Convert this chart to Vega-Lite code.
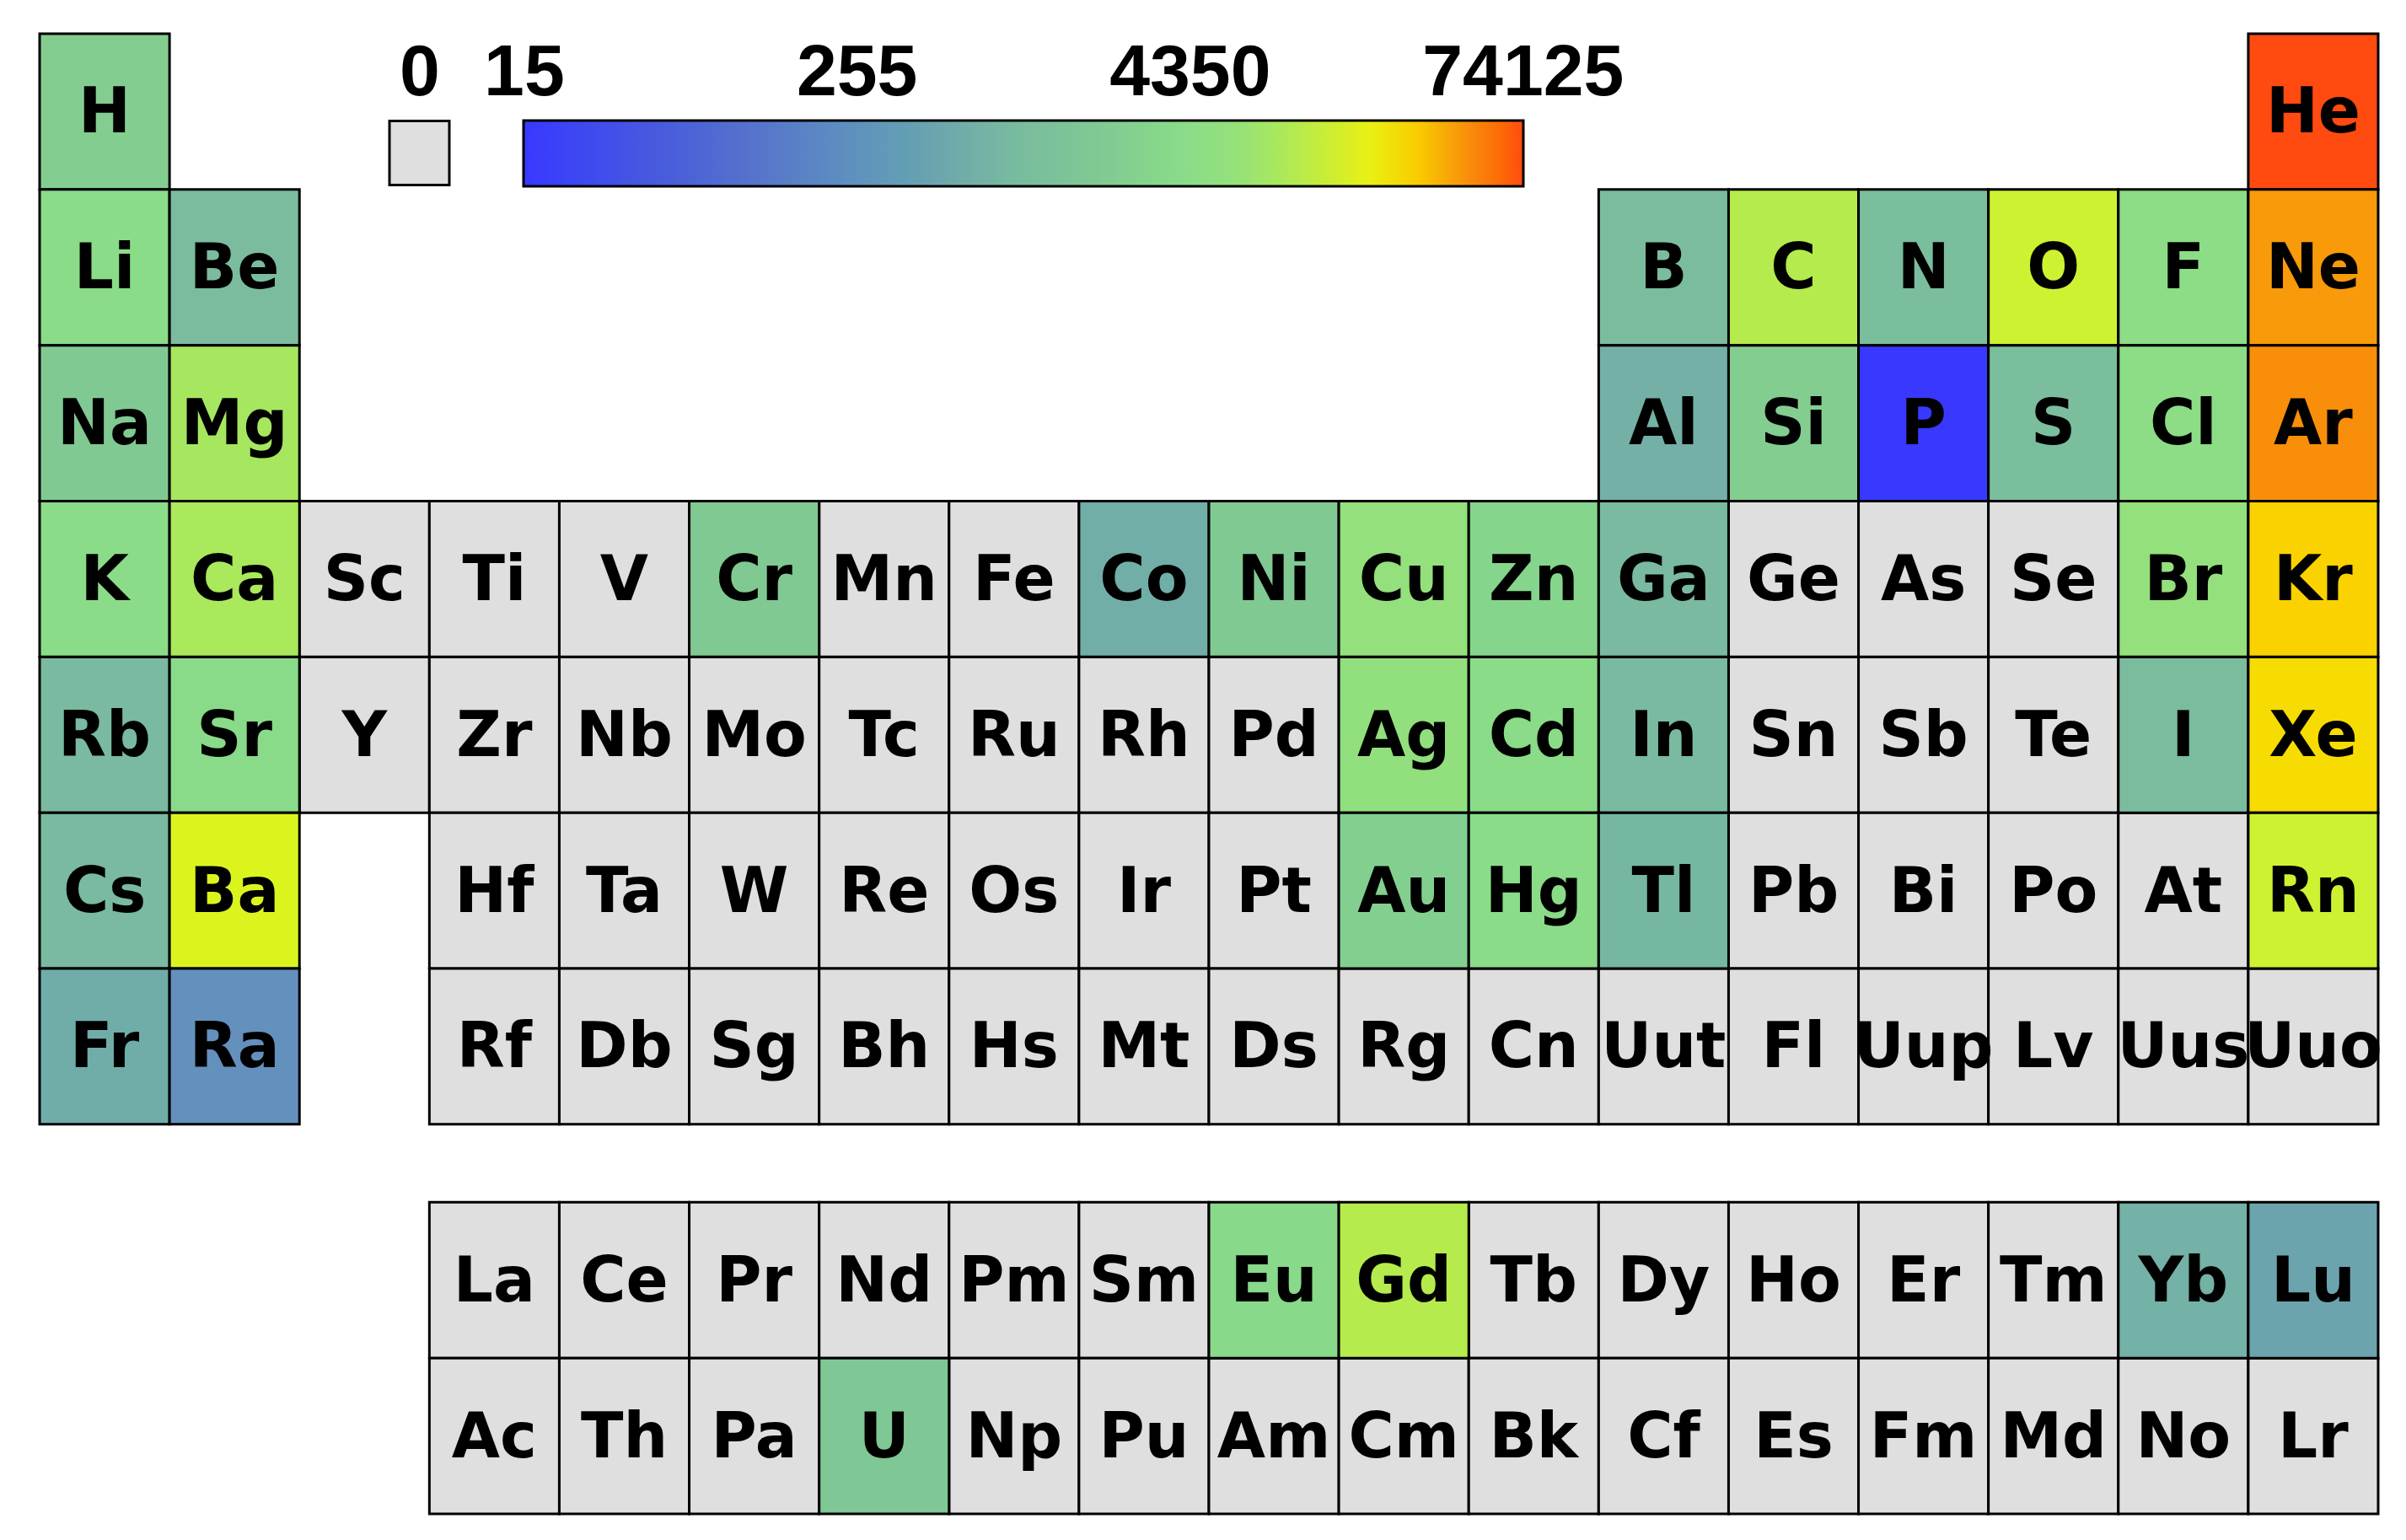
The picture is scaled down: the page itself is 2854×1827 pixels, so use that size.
{
  "$schema": "https://vega.github.io/schema/vega-lite/v6.json",
  "width": 2774,
  "height": 1756,
  "autosize": {"type": "none"},
  "padding": {"left": 47, "top": 40, "right": 33, "bottom": 31},
  "background": "white",
  "config": {"view": {"stroke": null}},
  "data": {"values": [
    {"s":"H","c":1,"r":1,"v":2300},{"s":"He","c":18,"r":1,"v":74125},
    {"s":"Li","c":1,"r":2,"v":4110},{"s":"Be","c":2,"r":2,"v":1050},{"s":"B","c":13,"r":2,"v":1050},{"s":"C","c":14,"r":2,"v":10900},{"s":"N","c":15,"r":2,"v":1150},{"s":"O","c":16,"r":2,"v":13530},{"s":"F","c":17,"r":2,"v":4500},{"s":"Ne","c":18,"r":2,"v":42700},
    {"s":"Na","c":1,"r":3,"v":1950},{"s":"Mg","c":2,"r":3,"v":8820},{"s":"Al","c":13,"r":3,"v":690},{"s":"Si","c":14,"r":3,"v":2300},{"s":"P","c":15,"r":3,"v":15},{"s":"S","c":16,"r":3,"v":1150},{"s":"Cl","c":17,"r":3,"v":4500},{"s":"Ar","c":18,"r":3,"v":46500},
    {"s":"K","c":1,"r":4,"v":4110},{"s":"Ca","c":2,"r":4,"v":9220},{"s":"Sc","c":3,"r":4,"v":0},{"s":"Ti","c":4,"r":4,"v":0},{"s":"V","c":5,"r":4,"v":0},{"s":"Cr","c":6,"r":4,"v":1950},{"s":"Mn","c":7,"r":4,"v":0},{"s":"Fe","c":8,"r":4,"v":0},{"s":"Co","c":9,"r":4,"v":640},{"s":"Ni","c":10,"r":4,"v":1950},{"s":"Cu","c":11,"r":4,"v":6290},{"s":"Zn","c":12,"r":4,"v":3200},{"s":"Ga","c":13,"r":4,"v":970},{"s":"Ge","c":14,"r":4,"v":0},{"s":"As","c":15,"r":4,"v":0},{"s":"Se","c":16,"r":4,"v":0},{"s":"Br","c":17,"r":4,"v":6290},{"s":"Kr","c":18,"r":4,"v":29080},
    {"s":"Rb","c":1,"r":5,"v":970},{"s":"Sr","c":2,"r":5,"v":3900},{"s":"Y","c":3,"r":5,"v":0},{"s":"Zr","c":4,"r":5,"v":0},{"s":"Nb","c":5,"r":5,"v":0},{"s":"Mo","c":6,"r":5,"v":0},{"s":"Tc","c":7,"r":5,"v":0},{"s":"Ru","c":8,"r":5,"v":0},{"s":"Rh","c":9,"r":5,"v":0},{"s":"Pd","c":10,"r":5,"v":0},{"s":"Ag","c":11,"r":5,"v":5780},{"s":"Cd","c":12,"r":5,"v":4110},{"s":"In","c":13,"r":5,"v":970},{"s":"Sn","c":14,"r":5,"v":0},{"s":"Sb","c":15,"r":5,"v":0},{"s":"Te","c":16,"r":5,"v":0},{"s":"I","c":17,"r":5,"v":1050},{"s":"Xe","c":18,"r":5,"v":26700},
    {"s":"Cs","c":1,"r":6,"v":970},{"s":"Ba","c":2,"r":6,"v":16700},{"s":"Hf","c":4,"r":6,"v":0},{"s":"Ta","c":5,"r":6,"v":0},{"s":"W","c":6,"r":6,"v":0},{"s":"Re","c":7,"r":6,"v":0},{"s":"Os","c":8,"r":6,"v":0},{"s":"Ir","c":9,"r":6,"v":0},{"s":"Pt","c":10,"r":6,"v":0},{"s":"Au","c":11,"r":6,"v":2470},{"s":"Hg","c":12,"r":6,"v":4110},{"s":"Tl","c":13,"r":6,"v":880},{"s":"Pb","c":14,"r":6,"v":0},{"s":"Bi","c":15,"r":6,"v":0},{"s":"Po","c":16,"r":6,"v":0},{"s":"At","c":17,"r":6,"v":0},{"s":"Rn","c":18,"r":6,"v":13530},
    {"s":"Fr","c":1,"r":7,"v":630},{"s":"Ra","c":2,"r":7,"v":250},{"s":"Rf","c":4,"r":7,"v":0},{"s":"Db","c":5,"r":7,"v":0},{"s":"Sg","c":6,"r":7,"v":0},{"s":"Bh","c":7,"r":7,"v":0},{"s":"Hs","c":8,"r":7,"v":0},{"s":"Mt","c":9,"r":7,"v":0},{"s":"Ds","c":10,"r":7,"v":0},{"s":"Rg","c":11,"r":7,"v":0},{"s":"Cn","c":12,"r":7,"v":0},{"s":"Uut","c":13,"r":7,"v":0},{"s":"Fl","c":14,"r":7,"v":0},{"s":"Uup","c":15,"r":7,"v":0},{"s":"Lv","c":16,"r":7,"v":0},{"s":"Uus","c":17,"r":7,"v":0},{"s":"Uuo","c":18,"r":7,"v":0},
    {"s":"La","c":4,"r":8.5,"v":0},{"s":"Ce","c":5,"r":8.5,"v":0},{"s":"Pr","c":6,"r":8.5,"v":0},{"s":"Nd","c":7,"r":8.5,"v":0},{"s":"Pm","c":8,"r":8.5,"v":0},{"s":"Sm","c":9,"r":8.5,"v":0},{"s":"Eu","c":10,"r":8.5,"v":3700},{"s":"Gd","c":11,"r":8.5,"v":11000},{"s":"Tb","c":12,"r":8.5,"v":0},{"s":"Dy","c":13,"r":8.5,"v":0},{"s":"Ho","c":14,"r":8.5,"v":0},{"s":"Er","c":15,"r":8.5,"v":0},{"s":"Tm","c":16,"r":8.5,"v":0},{"s":"Yb","c":17,"r":8.5,"v":720},{"s":"Lu","c":18,"r":8.5,"v":490},
    {"s":"Ac","c":4,"r":9.5,"v":0},{"s":"Th","c":5,"r":9.5,"v":0},{"s":"Pa","c":6,"r":9.5,"v":0},{"s":"U","c":7,"r":9.5,"v":1800},{"s":"Np","c":8,"r":9.5,"v":0},{"s":"Pu","c":9,"r":9.5,"v":0},{"s":"Am","c":10,"r":9.5,"v":0},{"s":"Cm","c":11,"r":9.5,"v":0},{"s":"Bk","c":12,"r":9.5,"v":0},{"s":"Cf","c":13,"r":9.5,"v":0},{"s":"Es","c":14,"r":9.5,"v":0},{"s":"Fm","c":15,"r":9.5,"v":0},{"s":"Md","c":16,"r":9.5,"v":0},{"s":"No","c":17,"r":9.5,"v":0},{"s":"Lr","c":18,"r":9.5,"v":0}
  ]},
  "encoding": {
    "x": {"field": "c", "type": "quantitative", "scale": {"domain": [0.5, 18.5], "nice": false, "zero": false}, "axis": null},
    "y": {"field": "r", "type": "quantitative", "scale": {"domain": [0.5, 10], "nice": false, "zero": false, "reverse": true}, "axis": null}
  },
  "layer": [
    {
      "transform": [{"filter": "datum.v == 0"}],
      "mark": {"type": "rect", "width": 154.1, "height": 184.8, "stroke": "black", "strokeWidth": 3, "opacity": 1},
      "encoding": {
        "fill": {"field": "v", "type": "nominal", "scale": {"range": ["#dfdfdf"]},
          "legend": {"orient": "none", "legendX": 411, "legendY": 5, "title": "0", "titleFont": "Liberation Sans", "titleFontSize": 86, "titleFontWeight": "bold", "titleColor": "black", "titleAnchor": "middle", "titlePadding": 11, "titleLimit": 500,
            "symbolType": "M-0.934,-1H0.934V1H-0.934Z", "symbolSize": 5776, "symbolStrokeColor": "black", "symbolStrokeWidth": 3, "symbolOpacity": 1, "labelExpr": "''", "labelOffset": 0}}
      }
    },
    {
      "transform": [{"filter": "datum.v > 0"}],
      "mark": {"type": "rect", "width": 154.1, "height": 184.8, "stroke": "black", "strokeWidth": 3, "opacity": 1},
      "encoding": {
        "color": {"field": "v", "type": "quantitative",
          "scale": {"type": "log",
            "domain": [14.9, 41.6, 97.4, 248.4, 490.4, 689, 1054.5, 2082, 4112, 6292, 9225, 11410, 13530, 16730, 22530, 27870, 40880, 48460, 74200],
            "range": ["#3838ff", "#4856e0", "#5670cc", "#6490bd", "#6ca4ae", "#74b0a6", "#7bbc9e", "#82ca92", "#8adc88", "#94e07c", "#aae85c", "#b8ec48", "#ccf232", "#dcf41e", "#f2ee0c", "#f8d802", "#f8a00a", "#f8880c", "#ff4a10"]},
          "legend": {"orient": "none", "direction": "horizontal", "legendX": 574, "legendY": 103, "title": null,
            "gradientLength": 1186, "gradientThickness": 78, "gradientStrokeColor": "black", "gradientStrokeWidth": 3,
            "values": [15, 255, 4350, 74125], "format": "d", "labelFont": "Liberation Sans", "labelFontSize": 86, "labelFontWeight": "bold", "labelColor": "black",
            "labelOffset": -176, "labelOverlap": false, "labelLimit": 600}
        }
      }
    },
    {
      "mark": {"type": "text", "font": "DejaVu Sans", "fontWeight": "bold", "fontSize": 74, "align": "center", "baseline": "middle", "dy": 3, "color": "black"},
      "encoding": {"text": {"field": "s", "type": "nominal"}}
    }
  ]
}
